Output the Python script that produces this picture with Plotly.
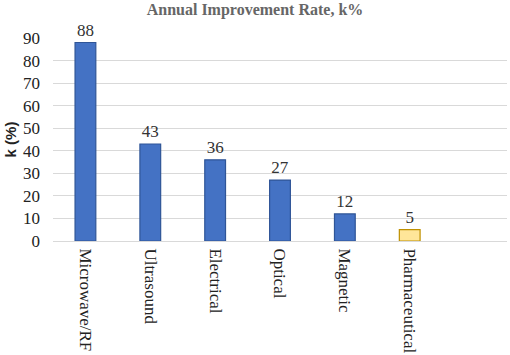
import plotly.graph_objects as go

categories = ["Microwave/RF", "Ultrasound", "Electrical", "Optical", "Magnetic", "Pharmaceutical"]
values = [88, 43, 36, 27, 12, 5]
fill_colors = ["#4472C4"] * 5 + ["#FFE699"]
line_colors = ["#2F5597"] * 5 + ["#BF9000"]

fig = go.Figure(go.Bar(
    x=categories, y=values,
    marker=dict(color=fill_colors, line=dict(color=line_colors, width=1.2)),
    width=0.32,
    text=[str(v) for v in values], textposition="outside",
    textfont=dict(family="Liberation Serif", size=17, color="#333333"),
    cliponaxis=False,
))

fig.update_layout(
    width=510, height=355,
    margin=dict(l=53, r=3, t=38, b=114, autoexpand=False),
    plot_bgcolor="white", paper_bgcolor="white",
    showlegend=False,
    title=dict(text="<b>Annual Improvement Rate, k%</b>", x=0.5, xanchor="center",
               y=0.99, yanchor="top",
               font=dict(family="Liberation Serif", size=16, color="#666666")),
    xaxis=dict(type="category", range=[-0.5, 6.5], tickangle=90, automargin=False,
               ticklabelstandoff=3,
               tickfont=dict(family="Liberation Serif", size=17, color="#222222"),
               showline=True, linecolor="#d9d9d9", linewidth=1, ticks=""),
    yaxis=dict(range=[0, 90], dtick=10, showgrid=True, gridcolor="#d9d9d9",
               zeroline=False, automargin=False, ticklabelstandoff=12,
               tickfont=dict(family="Liberation Serif", size=17, color="#222222"),
               title=dict(text="<b>k (%)</b>", font=dict(family="Liberation Sans", size=15, color="#222222"),
                          standoff=2)),
)

fig.write_html("out.html", config={"displayModeBar": False},
               post_script="document.body.style.margin='0';")
